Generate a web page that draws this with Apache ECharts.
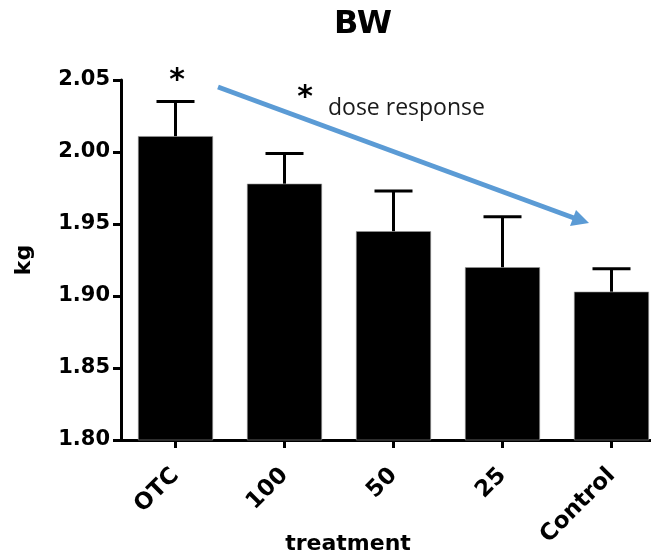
<!DOCTYPE html>
<html>
<head>
<meta charset="utf-8">
<script src="https://cdn.jsdelivr.net/npm/echarts@6/dist/echarts.min.js"></script>
<style>
html,body{margin:0;padding:0;background:#fff;}
#chart{width:651px;height:560px;}
</style>
</head>
<body>
<div id="chart"></div>
<script>
var categories = ['OTC', '100', '50', '25', 'Control'];
var means = [2.011, 1.978, 1.945, 1.920, 1.903];
var sem = [0.024, 0.021, 0.028, 0.035, 0.016];
var yTicks = [1.80, 1.85, 1.90, 1.95, 2.00, 2.05];

var chart = echarts.init(document.getElementById('chart'), null, {renderer: 'canvas'});

var errData = categories.map(function (c, i) { return [i, means[i], means[i] + sem[i]]; });

var option = {
  backgroundColor: '#ffffff',
  animation: false,
  title: {
    text: 'BW',
    left: 358,
    top: 4,
    textAlign: 'center',
    textStyle: {fontFamily: 'DejaVu Sans', fontWeight: 'bold', fontSize: 32, color: '#000'}
  },
  grid: {left: 121, top: 80, width: 545, height: 360, containLabel: false, outerBoundsMode: 'none'},
  xAxis: {
    type: 'category',
    data: categories,
    boundaryGap: true,
    axisLine: {show: true, lineStyle: {color: '#000', width: 3}},
    axisTick: {show: true, alignWithLabel: true, length: 8, lineStyle: {color: '#000', width: 3}},
    axisLabel: {
      rotate: 45, margin: 32, color: '#000',
      fontFamily: 'DejaVu Sans', fontWeight: 'bold', fontSize: 23
    },
    splitLine: {show: false}
  },
  yAxis: {
    type: 'value',
    min: 1.80, max: 2.05, interval: 0.05,
    name: 'kg',
    nameLocation: 'middle',
    nameGap: 86,
    nameRotate: 90,
    nameTextStyle: {fontFamily: 'DejaVu Sans', fontWeight: 'bold', fontSize: 22, color: '#000'},
    axisLine: {show: true, lineStyle: {color: '#000', width: 3}},
    axisTick: {show: true, length: 8, lineStyle: {color: '#000', width: 3}},
    axisLabel: {
      margin: 11, color: '#000',
      fontFamily: 'DejaVu Sans', fontWeight: 'bold', fontSize: 21,
      formatter: function (v) { return v.toFixed(2); }
    },
    splitLine: {show: false}
  },
  series: [
    {
      type: 'bar',
      data: means,
      barWidth: 75,
      itemStyle: {color: '#000', borderColor: '#999', borderWidth: 0.6},
      z: 2
    },
    {
      type: 'custom',
      data: errData,
      z: 3,
      renderItem: function (params, api) {
        var x = api.value(0);
        var base = api.coord([x, api.value(1)]);
        var top = api.coord([x, api.value(2)]);
        var half = 19;
        return {
          type: 'group',
          children: [
            {type: 'line', shape: {x1: base[0], y1: base[1], x2: top[0], y2: top[1]},
             style: {stroke: '#000', lineWidth: 3}},
            {type: 'line', shape: {x1: top[0] - half, y1: top[1], x2: top[0] + half, y2: top[1]},
             style: {stroke: '#000', lineWidth: 3}}
          ]
        };
      }
    }
  ],
  graphic: [
    {type: 'line', shape: {x1: 218, y1: 87, x2: 574, y2: 218}, style: {stroke: '#5B9BD5', lineWidth: 5}},
    {type: 'polygon', shape: {points: [[589, 223], [570, 226], [576, 210]]}, style: {fill: '#5B9BD5'}},
    {type: 'text', style: {text: '*', x: 177, y: 81, textAlign: 'center', textVerticalAlign: 'middle',
      font: 'bold 30px "DejaVu Sans"', fill: '#000'}},
    {type: 'text', style: {text: '*', x: 305, y: 98, textAlign: 'center', textVerticalAlign: 'middle',
      font: 'bold 30px "DejaVu Sans"', fill: '#000'}},
    {type: 'text', style: {text: 'dose response', x: 328, y: 108, textAlign: 'left', textVerticalAlign: 'middle',
      font: '23px "Open Sans"', fill: '#1a1a1a'}},
    {type: 'text', style: {text: 'treatment', x: 348, y: 544, textAlign: 'center', textVerticalAlign: 'middle',
      font: 'bold 22px "DejaVu Sans"', fill: '#000'}}
  ]
};
chart.setOption(option);
</script>
</body>
</html>
